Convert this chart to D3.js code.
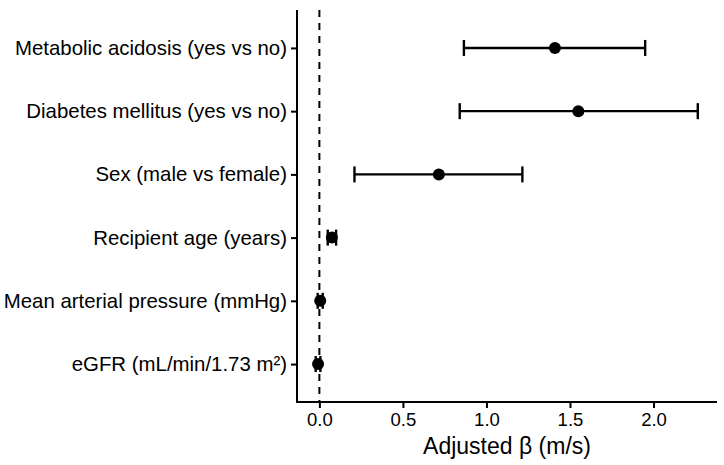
<!DOCTYPE html>
<html>
<head>
<meta charset="utf-8">
<script src="https://cdn.jsdelivr.net/npm/d3@7"></script>
<style>
  body { margin: 0; background: #fff; }
  text { font-family: "Liberation Sans", Arial, sans-serif; fill: #000; }
</style>
</head>
<body>
<div id="chart"></div>
<script>
const variables = [
    'Metabolic acidosis (yes vs no)',
    'Diabetes mellitus (yes vs no)',
    'Sex (male vs female)',
    'Recipient age (years)',
    'Mean arterial pressure (mmHg)',
    'eGFR (mL/min/1.73 m\u00b2)',
];
const estimates = [1.41, 1.55, 0.715, 0.075, 0.005, -0.008];
const lower = [0.865, 0.84, 0.21, 0.05, -0.01, -0.022];
const upper = [1.95, 2.265, 1.215, 0.10, 0.02, 0.006];
const xTicks = [0, 0.5, 1, 1.5, 2];

const width = 724, height = 465;
const plotLeft = 297, plotRight = 717, plotTop = 10, plotBottom = 402;

const svg = d3.select('#chart').append('svg')
    .attr('width', width)
    .attr('height', height);

const x = d3.scaleLinear().domain([-0.134, 2.38]).range([plotLeft, plotRight]);
// discrete scale with ggplot-like 0.6 padding each side
const y = d3.scalePoint().domain(variables).range([plotTop, plotBottom]).padding(0.6);

const rows = variables.map((v, i) => ({name: v, est: estimates[i], lo: lower[i], hi: upper[i]}));

// reference line at zero
svg.append('line')
    .attr('x1', x(0)).attr('x2', x(0))
    .attr('y1', plotTop).attr('y2', plotBottom)
    .style('stroke', '#000')
    .style('stroke-width', 2)
    .style('stroke-dasharray', '7,6');

const g = svg.append('g');
g.selectAll('.ci').data(rows).enter().append('line')
    .attr('x1', d => x(d.lo)).attr('x2', d => x(d.hi))
    .attr('y1', d => y(d.name)).attr('y2', d => y(d.name))
    .style('stroke', '#000').style('stroke-width', 2.4);

['lo', 'hi'].forEach(k => {
    g.selectAll('.cap-' + k).data(rows).enter().append('line')
        .attr('x1', d => x(d[k])).attr('x2', d => x(d[k]))
        .attr('y1', d => y(d.name) - 8).attr('y2', d => y(d.name) + 8)
        .style('stroke', '#000').style('stroke-width', 2.4);
});

g.selectAll('circle').data(rows).enter().append('circle')
    .attr('cx', d => x(d.est))
    .attr('cy', d => y(d.name))
    .attr('r', 6)
    .style('fill', '#000');

// axes
const xAxis = svg.append('g')
    .attr('transform', `translate(0,${plotBottom})`)
    .call(d3.axisBottom(x).tickValues(xTicks).tickFormat(d3.format('.1f')).tickSize(6).tickPadding(5));
const yAxis = svg.append('g')
    .attr('transform', `translate(${plotLeft},0)`)
    .call(d3.axisLeft(y).tickSize(6).tickPadding(4));

[xAxis, yAxis].forEach(a => {
    a.select('.domain').remove();
    a.attr('font-size', null).attr('font-family', null);
    a.selectAll('.tick line').style('stroke-width', 2);
});
xAxis.selectAll('.tick text').style('font-size', '18.5px');
yAxis.selectAll('.tick text').style('font-size', '20.4px');

svg.append('line')
    .attr('x1', plotLeft).attr('x2', plotLeft).attr('y1', plotTop).attr('y2', plotBottom + 1)
    .style('stroke', '#000').style('stroke-width', 2);
svg.append('line')
    .attr('x1', plotLeft - 1).attr('x2', plotRight).attr('y1', plotBottom).attr('y2', plotBottom)
    .style('stroke', '#000').style('stroke-width', 2);

svg.append('text')
    .attr('x', (plotLeft + plotRight) / 2)
    .attr('y', 454)
    .attr('text-anchor', 'middle')
    .style('font-size', '23px')
    .text('Adjusted \u03b2 (m/s)');
</script>
</body>
</html>
